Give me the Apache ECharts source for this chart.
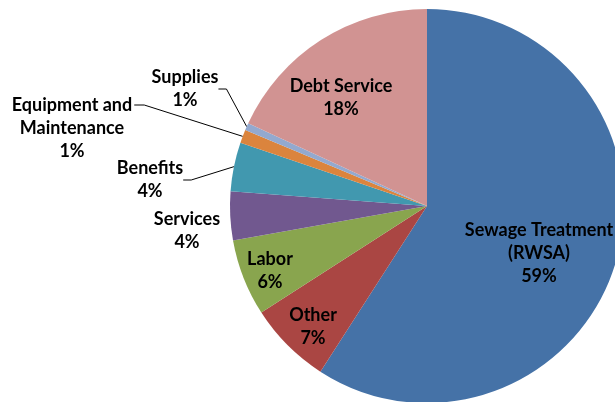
<!DOCTYPE html>
<html>
<head>
<meta charset="utf-8">
<script src="https://cdn.jsdelivr.net/npm/echarts@6/dist/echarts.min.js"></script>
<style>
html,body{margin:0;padding:0;background:#fff;}
#chart{width:615px;height:402px;}
</style>
</head>
<body>
<div id="chart"></div>
<script>
// Data
const categories = [
  "Sewage Treatment\n(RWSA)",
  "Other",
  "Labor",
  "Services",
  "Benefits",
  "Equipment and\nMaintenance",
  "Supplies",
  "Debt Service"
];
const shares = [59.1, 6.8, 6.3, 4.0, 4.0, 1.1, 0.6, 18.1];
const colors = ["#4572A7", "#AA4643", "#89A54E", "#71588F", "#4198AF", "#DB843D", "#93A9CF", "#D19392"];

// Label placement (text centres, px) and leader-line visibility
const labelCenters = [
  [539, 253], [313, 327], [270, 271], [187, 231],
  [150, 180], [72, 128], [185, 89], [341, 98]
];
const showLeader = [false, false, false, false, true, true, true, false];

const CX = 427, CY = 206, R = 197, LINE_H = 23;
const total = shares.reduce((a, b) => a + b, 0);

const chart = echarts.init(document.getElementById('chart'), null, {renderer: 'canvas'});
chart.setOption({
  animation: false,
  color: colors,
  series: [{
    type: 'pie',
    center: [CX, CY],
    radius: [0, R],
    startAngle: 90,
    clockwise: true,
    avoidLabelOverlap: false,
    data: categories.map((c, i) => ({
      name: c,
      value: shares[i],
      labelLine: {show: showLeader[i], length: 10, length2: 8,
        lineStyle: {color: '#000', width: 1}}
    })),
    itemStyle: {borderWidth: 0},
    label: {
      show: true,
      position: 'outside',
      formatter: p => p.name + '\n' + Math.round(p.percent) + '%',
      fontFamily: 'Lato',
      fontWeight: 'bold',
      fontSize: 18,
      lineHeight: LINE_H,
      color: '#000',
      align: 'center'
    },
    labelLayout: function (params) {
      const i = params.dataIndex;
      const c = labelCenters[i];
      const out = {x: c[0], y: c[1], align: 'center', verticalAlign: 'middle'};
      if (i === 5) {
        // leader from the first text line's right end to the slice's arc midpoint
        let before = 0;
        for (let k = 0; k < i; k++) before += shares[k];
        const mid = (before + shares[i] / 2) / total * 2 * Math.PI;
        const px = CX + R * Math.sin(mid), py = CY - R * Math.cos(mid);
        const w = params.labelRect.width, h = params.labelRect.height;
        const ex = c[0] + w / 2 + 2, ey = c[1] - h / 2 + LINE_H / 2;
        out.labelLinePoints = [[px, py], [ex + 10, ey], [ex, ey]];
      }
      return out;
    },
    emphasis: {disabled: true}
  }]
});
</script>
</body>
</html>
